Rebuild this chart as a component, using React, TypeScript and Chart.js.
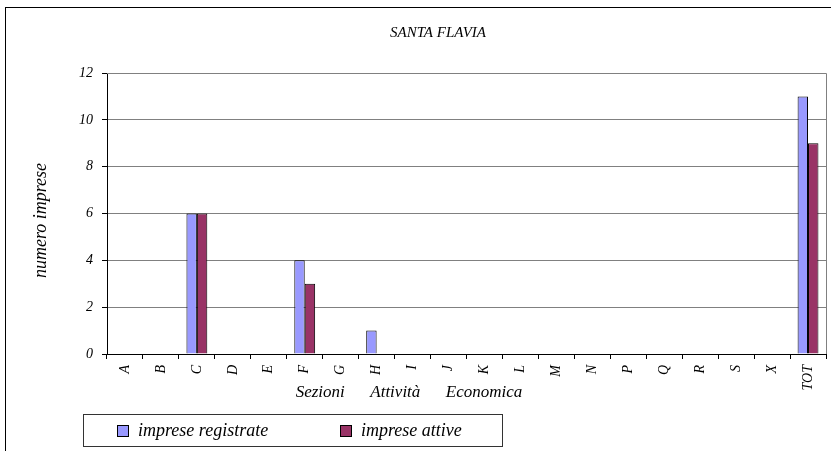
import React, { useEffect, useRef } from "react";
import { Chart, registerables } from "chart.js";

Chart.register(...registerables);

const categories = ["A", "B", "C", "D", "E", "F", "G", "H", "I", "J", "K", "L", "M", "N", "P", "Q", "R", "S", "X", "TOT"];
const impreseRegistrate = [0, 0, 6, 0, 0, 4, 0, 1, 0, 0, 0, 0, 0, 0, 0, 0, 0, 0, 0, 11];
const impreseAttive = [0, 0, 6, 0, 0, 3, 0, 0, 0, 0, 0, 0, 0, 0, 0, 0, 0, 0, 0, 9];
const yTicks = [0, 2, 4, 6, 8, 10, 12];
const chartTitle = "SANTA FLAVIA";
const yTitle = "numero imprese";
const xTitle = "Sezioni      Attività      Economica";
const seriesNames = ["imprese registrate", "imprese attive"];
const seriesColors = ["#9999FF", "#993366"];

const FONT = "'Liberation Serif', 'Times New Roman', serif";

const textPlugin = {
  id: "texts",
  afterDraw(chart: any) {
    const { ctx, chartArea } = chart;
    ctx.save();
    ctx.strokeStyle = "#808080";
    ctx.lineWidth = 1;
    ctx.beginPath();
    ctx.moveTo(chartArea.left, chartArea.top + 0.5);
    ctx.lineTo(chartArea.right + 0.5, chartArea.top + 0.5);
    ctx.lineTo(chartArea.right + 0.5, chartArea.bottom);
    ctx.stroke();
    ctx.fillStyle = "#000";
    ctx.textAlign = "center";
    ctx.textBaseline = "middle";
    ctx.font = `italic 15px ${FONT}`;
    ctx.fillText(chartTitle, 438, 33);
    ctx.font = `italic 17px ${FONT}`;
    ctx.fillText(xTitle, 409, 393);
    ctx.translate(41, (chartArea.top + chartArea.bottom) / 2 + 7);
    ctx.rotate(-Math.PI / 2);
    ctx.font = `italic 18px ${FONT}`;
    ctx.fillText(yTitle, 0, 0);
    ctx.restore();
  },
};

export default function App() {
  const ref = useRef<HTMLCanvasElement>(null);
  useEffect(() => {
    const chart = new Chart(ref.current!, {
      type: "bar",
      data: {
        labels: categories,
        datasets: [
          { label: seriesNames[0], data: impreseRegistrate, backgroundColor: seriesColors[0], borderColor: "#000", borderWidth: 1 },
          { label: seriesNames[1], data: impreseAttive, backgroundColor: seriesColors[1], borderColor: "#000", borderWidth: 1 },
        ],
      },
      options: {
        animation: false,
        responsive: false,
        events: [],
        layout: { padding: { left: 0, top: 73, right: 5, bottom: 37 } },
        plugins: { legend: { display: false }, title: { display: false }, tooltip: { enabled: false } },
        datasets: { bar: { categoryPercentage: 0.58, barPercentage: 1 } },
        scales: {
          x: {
            afterFit: (s: any) => { s.height = 60; },
            grid: { drawOnChartArea: false, drawTicks: true, tickLength: 5, tickColor: "#000", offset: true },
            border: { color: "#000", width: 1 },
            ticks: { minRotation: 90, maxRotation: 90, autoSkip: false, color: "#000", padding: 6, font: { family: FONT, size: 14, style: "italic" } },
          },
          y: {
            min: 0,
            max: 12,
            afterFit: (s: any) => { s.width = 107; },
            afterBuildTicks: (s: any) => { s.ticks = yTicks.map((v) => ({ value: v })); },
            grid: { color: "#808080", tickColor: "#000", tickLength: 5, drawTicks: true },
            border: { color: "#000", width: 1 },
            ticks: { color: "#000", padding: 9, font: { family: FONT, size: 14, style: "italic" } },
          },
        },
      },
      plugins: [textPlugin],
    });
    return () => chart.destroy();
  }, []);

  return (
    <div style={{ position: "fixed", left: 0, top: 0, width: 831, height: 451, overflow: "hidden", background: "#fff" }}>
      <div style={{ position: "absolute", left: 5, top: 7, width: 900, height: 500, border: "1px solid #000", boxSizing: "border-box" }} />
      <canvas ref={ref} width={831} height={451} style={{ position: "absolute", left: 0, top: 0 }} />
      <div
        style={{
          position: "absolute",
          left: 83,
          top: 414,
          width: 420,
          height: 33,
          border: "1px solid #333",
          boxSizing: "border-box",
          fontFamily: FONT,
          fontStyle: "italic",
          fontSize: 18,
        }}
      >
        {seriesNames.map((n, i) => (
          <div key={n} style={{ position: "absolute", left: i === 0 ? 33 : 256, top: 0, height: 31, display: "flex", alignItems: "center" }}>
            <span style={{ display: "inline-block", width: 10, height: 10, background: seriesColors[i], border: "1px solid #000", marginRight: 9 }} />
            <span>{n}</span>
          </div>
        ))}
      </div>
    </div>
  );
}
